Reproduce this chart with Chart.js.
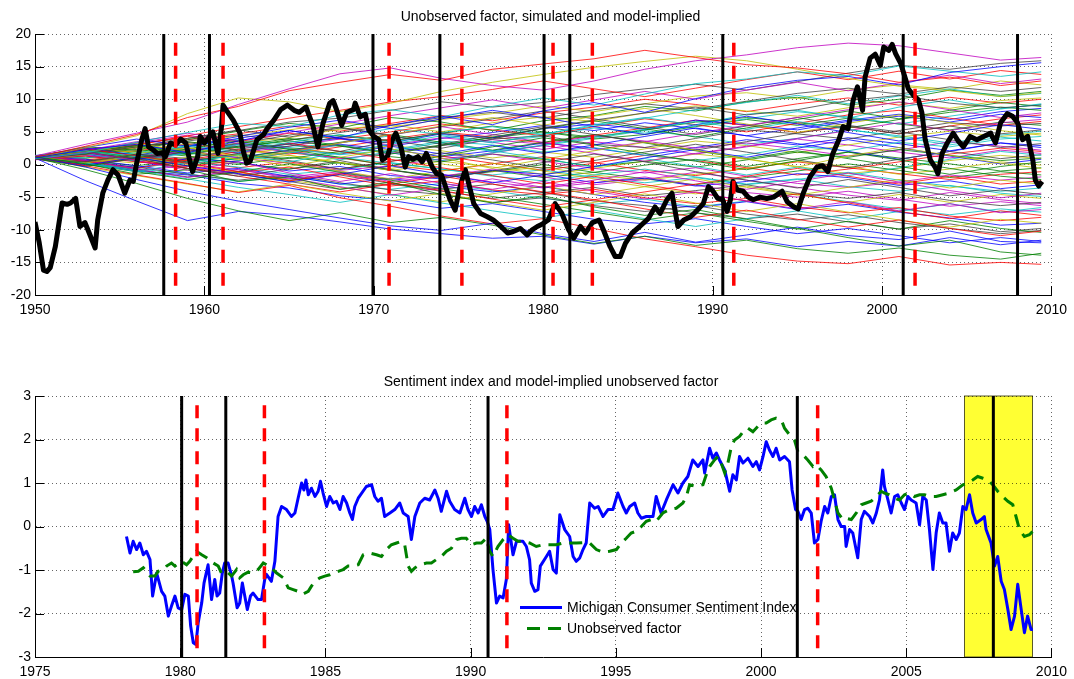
<!DOCTYPE html>
<html>
<head>
<meta charset="utf-8">
<script src="https://cdn.jsdelivr.net/npm/chart.js@4.4.0/dist/chart.umd.min.js"></script>
<style>
  html, body { margin: 0; padding: 0; background: #fff; overflow: hidden; }
  #top-chart { position: absolute; left: 0; top: 0; }
  #bottom-chart { position: absolute; left: 0; top: 362px; }
</style>
</head>
<body>
<canvas id="top-chart" width="1074" height="330"></canvas>
<canvas id="bottom-chart" width="1074" height="317"></canvas>
<script>
// ===================================
// Data
// ===================================

// Model-implied unobserved factor (thick black line, top panel)
const factorYears = [
    1950.0, 1950.25, 1950.5, 1950.7, 1950.9, 1951.2, 1951.6, 1951.9, 1952.1, 1952.4, 1952.65, 1952.95,
    1953.2, 1953.55, 1953.7, 1954.0, 1954.3, 1954.6, 1954.9, 1955.3, 1955.6, 1955.8, 1956.0, 1956.3,
    1956.5, 1956.7, 1957.0, 1957.2, 1957.5, 1957.7, 1958.0, 1958.3, 1958.6, 1958.9, 1959.1, 1959.3,
    1959.6, 1959.75, 1960.0, 1960.3, 1960.5, 1960.8, 1961.0, 1961.1, 1961.3, 1961.7, 1962.1, 1962.3,
    1962.5, 1962.7, 1963.1, 1963.5, 1963.7, 1964.1, 1964.5, 1964.9, 1965.3, 1965.6, 1966.0, 1966.4,
    1966.7, 1967.0, 1967.4, 1967.6, 1967.8, 1968.1, 1968.4, 1968.8, 1968.9, 1969.2, 1969.5, 1969.7,
    1970.0, 1970.3, 1970.5, 1970.8, 1971.1, 1971.3, 1971.6, 1971.85, 1972.05, 1972.3, 1972.6, 1972.85,
    1973.1, 1973.45, 1973.7, 1974.0, 1974.3, 1974.5, 1974.8, 1975.0, 1975.2, 1975.4, 1975.6, 1975.9,
    1976.3, 1976.7, 1977.05, 1977.5, 1977.9, 1978.2, 1978.65, 1979.05, 1979.35, 1979.65, 1979.9, 1980.3,
    1980.7, 1981.1, 1981.5, 1981.8, 1982.2, 1982.5, 1982.9, 1983.3, 1983.55, 1983.95, 1984.25, 1984.55,
    1984.85, 1985.25, 1985.7, 1986.2, 1986.6, 1986.9, 1987.3, 1987.6, 1987.95, 1988.3, 1988.7, 1989.1,
    1989.45, 1989.75, 1990.0, 1990.3, 1990.6, 1990.85, 1991.05, 1991.2, 1991.45, 1991.8, 1992.1, 1992.4,
    1992.8, 1993.2, 1993.6, 1994.1, 1994.4, 1994.8, 1995.05, 1995.35, 1995.75, 1996.15, 1996.5, 1996.8,
    1997.1, 1997.45, 1997.7, 1998.0, 1998.3, 1998.55, 1998.85, 1999.0, 1999.3, 1999.6, 1999.9, 2000.1,
    2000.4, 2000.6, 2000.8, 2001.1, 2001.4, 2001.55, 2001.85, 2002.15, 2002.35, 2002.55, 2002.85, 2003.15,
    2003.3, 2003.55, 2003.85, 2004.2, 2004.5, 2004.8, 2005.2, 2005.6, 2006.0, 2006.4, 2006.7, 2007.0,
    2007.4, 2007.7, 2008.0, 2008.3, 2008.6, 2008.9, 2009.05, 2009.25, 2009.45
];
const factorValues = [
    -8.8, -12.0, -16.2, -16.4, -15.8, -12.6, -5.9, -6.1, -5.9, -5.2, -9.5, -8.9,
    -10.5, -12.8, -8.5, -4.4, -2.4, -0.8, -1.6, -4.4, -2.4, -2.6, 0.2, 3.8,
    5.5, 2.7, 2.2, 1.7, 1.8, 1.2, 3.3, 3.0, 3.9, 3.3, 1.0, -1.1,
    1.2, 4.3, 3.3, 4.3, 5.0, 1.7, 5.5, 9.1, 8.3, 6.8, 4.8, 2.0,
    0.2, 0.5, 3.8, 4.6, 5.5, 6.8, 8.4, 9.1, 8.3, 8.0, 8.8, 6.0,
    2.7, 6.3, 9.4, 9.8, 8.4, 6.0, 8.0, 8.4, 9.4, 7.3, 7.7, 5.3,
    4.3, 3.8, 0.7, 1.2, 3.8, 4.8, 2.7, -0.4, 1.2, 0.8, 1.2, 0.4,
    1.7, -0.4, -1.4, -1.6, -3.9, -5.4, -7.0, -4.4, -2.4, -0.8, -2.9, -6.0,
    -7.5, -8.0, -8.5, -9.5, -10.5, -10.3, -9.8, -10.8, -10.0, -9.5, -9.2, -8.5,
    -6.0, -7.5, -10.0, -11.3, -9.5, -10.5, -8.9, -8.5, -10.0, -12.6, -14.1, -14.1,
    -12.1, -10.5, -9.5, -8.3, -6.5, -7.5, -5.4, -4.4, -9.5, -8.5, -8.0, -7.0,
    -6.0, -3.4, -4.0, -5.2, -5.4, -7.2, -5.4, -2.6, -3.9, -4.1, -5.0, -5.4,
    -5.0, -5.2, -5.0, -4.1, -5.7, -6.5, -6.8, -4.4, -1.9, -0.4, -0.2, -1.1,
    1.7, 3.8, 5.8, 5.5, 9.9, 11.9, 8.3, 13.4, 16.3, 16.9, 15.2, 18.0,
    17.5, 18.4, 17.0, 15.5, 13.0, 11.6, 10.6, 9.9, 8.0, 3.8, 0.7, -0.5,
    -1.4, 1.7, 3.3, 4.8, 3.6, 2.7, 4.3, 3.8, 4.3, 4.8, 3.3, 6.4,
    7.8, 7.4, 6.4, 3.8, 4.3, 0.7, -2.4, -3.3, -2.6
];

// Simulated paths of the factor (thin coloured lines, top panel)
const simYears = [1950, 1953, 1956, 1959, 1962, 1965, 1968, 1971, 1974, 1977, 1980,
                  1983, 1986, 1989, 1992, 1995, 1998, 2001, 2004, 2007, 2009.4];
const simPaths = [
    [1.0, 2.3, 3.1, 1.8, 3.6, 5.2, 4.1, 6.0, 7.4, 6.1, 8.2, 9.5, 8.0, 10.1, 11.8, 12.9, 13.5, 12.2, 14.1, 15.0, 15.6],
    [1.2, 0.1, -1.5, -0.8, -2.6, -1.9, -3.8, -2.7, -4.6, -5.9, -4.8, -6.5, -7.8, -6.9, -8.4, -9.8, -11.2, -12.5, -11.6, -13.4, -13.9],
    [1.1, 2.8, 4.6, 7.2, 8.9, 11.3, 12.6, 13.8, 12.9, 14.6, 15.4, 16.2, 17.5, 16.4, 15.3, 14.8, 13.9, 12.6, 13.4, 12.1, 12.8],
    [0.9, 1.8, 3.4, 4.9, 6.3, 5.8, 7.6, 8.4, 7.3, 8.9, 10.2, 9.1, 10.8, 12.4, 13.1, 14.2, 13.6, 15.1, 14.3, 13.5, 14.2],
    [1.3, 3.1, 4.8, 6.5, 9.2, 11.6, 13.9, 14.8, 13.2, 12.1, 11.4, 12.8, 14.6, 15.9, 16.8, 17.9, 18.6, 18.2, 17.1, 16.0, 16.4],
    [1.0, 2.6, 4.4, 7.8, 10.2, 9.6, 8.1, 9.4, 11.2, 12.6, 13.8, 14.9, 15.8, 16.6, 15.9, 14.6, 13.2, 12.0, 11.3, 10.4, 11.0],
    [0.8, 0.4, 1.6, 0.9, 2.4, 3.1, 2.0, 3.6, 4.8, 3.9, 5.6, 6.8, 7.9, 8.8, 7.6, 8.4, 9.8, 10.6, 9.4, 8.7, 9.1],
    [1.2, -0.4, -2.3, -4.1, -5.6, -6.9, -8.2, -9.4, -10.1, -9.0, -10.6, -11.8, -10.4, -11.9, -10.8, -9.6, -10.9, -11.5, -10.2, -11.8, -12.0],
    [1.0, -0.8, -2.9, -5.2, -7.1, -8.6, -7.4, -8.9, -8.1, -9.3, -10.8, -12.1, -11.0, -12.4, -11.6, -12.9, -13.6, -12.8, -13.9, -14.5, -13.6],
    [1.1, -0.2, -1.6, -2.9, -4.3, -3.2, -5.1, -6.4, -7.9, -9.1, -8.3, -9.8, -11.4, -12.6, -13.9, -14.8, -15.2, -14.1, -15.4, -15.0, -15.3],
    [1.4, 2.1, 1.2, 2.9, 1.9, 3.4, 4.6, 3.3, 4.9, 5.8, 4.6, 6.1, 7.2, 6.0, 7.7, 8.3, 7.1, 8.8, 9.9, 8.6, 9.2],
    [0.7, 1.9, 0.6, -0.9, 0.4, -1.3, -2.6, -1.4, -2.9, -3.8, -2.6, -4.1, -5.3, -4.2, -5.6, -6.8, -5.7, -7.1, -6.0, -7.4, -6.9],
    [1.2, 0.3, 1.7, 2.6, 1.2, -0.3, 1.1, 2.4, 1.0, -0.6, 0.8, 2.1, 3.4, 2.2, 0.9, -0.4, 1.3, 2.6, 1.4, 0.2, -0.6],
    [1.0, 1.8, 0.9, -0.6, -1.8, -0.7, 0.6, -0.8, -2.1, -1.0, 0.3, 1.6, 0.4, -1.1, -2.4, -3.6, -2.3, -3.5, -4.8, -3.9, -4.6],
    [1.1, 2.6, 3.9, 2.8, 4.3, 5.7, 6.8, 5.5, 7.0, 8.3, 7.2, 5.8, 4.6, 6.1, 7.4, 6.2, 4.9, 3.6, 4.8, 6.1, 5.4],
    [0.9, -0.3, 1.0, 2.4, 3.6, 2.3, 1.1, -0.2, 1.3, 2.7, 4.1, 3.0, 1.7, 0.5, -0.8, 0.6, 1.9, 0.7, -0.6, -1.8, -2.3],
    [1.3, 2.4, 1.3, 0.2, -1.1, -2.5, -1.4, -2.8, -4.0, -5.3, -6.5, -5.4, -6.8, -8.1, -7.0, -8.4, -9.6, -8.5, -9.8, -10.9, -10.2],
    [1.0, 0.2, -1.1, 0.3, 1.5, 0.4, 1.8, 3.1, 4.4, 3.3, 4.7, 5.9, 7.1, 8.4, 9.5, 10.6, 9.3, 10.5, 11.6, 10.4, 10.9],
    [1.2, 0.6, -0.7, -2.0, -0.8, -2.1, -3.4, -4.7, -3.6, -2.2, -3.5, -2.4, -1.1, -2.5, -3.8, -2.6, -1.3, -2.7, -4.0, -5.1, -4.4],
    [1.1, 1.9, 3.2, 2.1, 0.8, 1.9, 3.3, 4.6, 5.9, 7.2, 6.0, 7.4, 8.6, 7.5, 6.2, 4.9, 6.3, 7.6, 6.4, 5.2, 4.5],
    [0.8, 1.6, 2.7, 4.0, 5.3, 4.2, 5.6, 4.4, 3.1, 4.5, 5.8, 4.6, 3.4, 2.2, 3.5, 4.8, 6.0, 5.0, 3.8, 2.6, 3.2],
    [1.0, -0.1, 1.1, -0.2, -1.4, -2.7, -1.5, -0.2, -1.5, -2.8, -1.6, -0.3, 1.0, 2.3, 1.1, 2.5, 3.8, 2.6, 1.3, 0.1, 0.8],
    [1.2, 2.0, 2.9, 1.6, 2.8, 4.0, 2.9, 1.6, 2.9, 4.2, 5.5, 6.7, 5.5, 4.2, 5.6, 6.9, 8.2, 7.0, 8.3, 9.5, 8.9],
    [1.4, 0.5, -0.6, 0.7, 2.0, 3.3, 2.0, 0.8, -0.5, -1.7, -3.0, -1.8, -3.1, -4.3, -5.6, -4.5, -5.9, -7.2, -8.3, -7.1, -7.8],
    [0.9, 1.7, 0.5, 1.8, 3.1, 2.0, 0.7, 2.0, 3.4, 2.1, 0.9, -0.4, 0.9, -0.3, -1.6, -0.4, -1.7, -0.5, 0.8, 2.0, 1.4],
    [1.1, 2.2, 3.5, 4.8, 3.6, 4.9, 6.2, 7.5, 8.7, 9.9, 8.6, 9.9, 11.2, 10.0, 11.4, 12.6, 11.3, 12.5, 13.7, 12.4, 13.1],
    [1.0, -0.4, -1.7, -3.0, -4.2, -3.0, -4.4, -5.6, -4.4, -5.8, -7.0, -5.8, -4.5, -5.9, -7.2, -6.0, -7.3, -8.5, -9.6, -8.4, -9.0],
    [1.2, 0.5, 1.5, 0.4, 1.7, 0.6, -0.7, 0.5, 1.8, 0.7, -0.6, 0.6, 1.9, 3.1, 1.9, 0.7, -0.5, 0.8, 2.0, 0.9, 1.5],
    [1.3, 2.5, 1.4, 2.7, 4.0, 5.2, 4.0, 2.8, 1.6, 2.9, 1.7, 3.0, 4.3, 5.6, 4.4, 3.2, 2.0, 0.8, 2.0, 3.3, 2.6],
    [1.0, 0.0, -1.1, -2.3, -1.1, 0.1, -1.2, -2.4, -3.7, -4.9, -6.1, -7.3, -8.5, -7.4, -8.7, -9.9, -8.7, -9.9, -8.6, -9.8, -10.4],
    [0.8, 1.9, 3.0, 4.4, 5.8, 7.1, 8.3, 9.6, 10.4, 11.5, 12.8, 11.6, 10.4, 11.7, 13.0, 14.2, 13.0, 14.3, 13.1, 14.4, 13.8],
    [1.1, 0.3, -0.9, -2.2, -3.5, -4.6, -5.8, -4.6, -5.9, -7.1, -8.2, -7.0, -8.3, -9.5, -8.3, -7.1, -8.4, -7.2, -6.0, -7.3, -6.6],
    [1.2, 2.1, 3.3, 4.5, 3.2, 2.0, 3.3, 4.6, 5.8, 4.6, 3.4, 2.2, 3.5, 4.8, 6.0, 7.2, 8.4, 9.6, 8.4, 7.2, 7.9],
    [0.9, 0.1, 1.2, 0.0, -1.2, -2.4, -3.5, -4.6, -5.7, -4.5, -3.3, -4.6, -3.4, -2.2, -3.5, -4.7, -3.5, -2.3, -3.6, -2.4, -3.0],
    [1.0, 1.9, 0.8, 2.0, 3.2, 4.5, 5.7, 4.5, 5.8, 7.0, 8.2, 7.0, 5.8, 4.6, 5.9, 7.2, 5.9, 4.7, 5.9, 4.7, 5.3],
    [1.0, -2.5, -5.6, -8.6, -7.2, -7.8, -8.8, -9.9, -10.6, -11.3, -11.0, -12.2, -11.0, -12.0, -11.4, -12.6, -11.8, -12.5, -11.2, -12.3, -11.6],
    [1.2, 2.2, 1.0, -0.2, 1.0, 2.2, 3.4, 4.6, 3.4, 2.2, 3.4, 4.6, 3.3, 2.1, 0.9, 2.1, 0.9, -0.3, -1.5, -0.3, 0.4],
    [1.0, 1.8, 0.6, -0.6, -1.8, -3.0, -4.2, -3.0, -1.8, -3.0, -4.2, -5.4, -4.2, -3.0, -1.8, -0.6, -1.8, -3.0, -1.8, -3.0, -2.5],
    [1.3, 2.0, 3.0, 1.8, 0.6, 1.8, 3.0, 1.8, 0.6, 1.8, 3.0, 4.2, 5.4, 6.6, 5.4, 6.6, 5.4, 4.2, 3.0, 4.2, 3.6],
    [0.8, -0.2, 0.9, 2.0, 3.1, 1.9, 3.0, 1.8, 0.6, 1.8, 2.9, 1.7, 0.5, 1.7, 2.8, 4.0, 5.2, 6.4, 5.2, 6.4, 6.9],
    [1.1, 0.2, 1.4, 2.6, 1.4, 0.2, -1.0, -2.2, -1.0, 0.2, -1.0, -2.2, -3.4, -4.5, -3.3, -4.6, -5.8, -4.6, -5.8, -4.6, -5.2],
    [1.1, 1.6, 2.9, 3.4, 2.1, 2.8, 4.3, 3.7, 2.5, 3.9, 4.4, 3.1, 2.6, 4.0, 5.3, 4.7, 3.9, 5.2, 6.4, 5.9, 6.3],
    [1.0, 0.6, -0.5, 0.9, 0.4, -1.0, -0.3, -1.7, -2.2, -0.9, -1.5, -2.8, -2.1, -3.3, -2.6, -1.4, -2.0, -3.2, -2.5, -3.7, -3.1],
    [1.2, 2.7, 2.2, 3.8, 5.1, 6.3, 5.6, 7.2, 6.5, 5.2, 6.7, 7.5, 8.9, 8.2, 9.6, 10.3, 9.1, 10.0, 11.4, 10.6, 11.2],
    [0.9, 0.2, 0.8, -0.6, -1.2, -0.4, -1.9, -3.3, -2.5, -3.9, -4.6, -3.8, -5.1, -6.0, -5.2, -6.5, -7.4, -6.6, -7.9, -8.6, -8.1],
    [1.3, 1.9, 1.1, 1.7, 3.0, 2.4, 1.5, 2.2, 3.6, 3.0, 1.9, 2.6, 1.4, 0.6, 1.5, 2.8, 2.1, 3.4, 2.7, 3.9, 4.3],
    [1.1, 0.4, 1.3, 2.1, 1.0, 0.2, -0.9, -0.2, 0.9, 1.6, 0.5, -0.6, -1.3, -0.5, -1.8, -2.9, -3.5, -2.7, -1.6, -2.4, -1.9],
    [0.8, 1.5, 2.6, 2.0, 3.3, 4.1, 5.4, 6.1, 5.0, 6.4, 7.3, 6.6, 7.9, 9.0, 8.2, 7.4, 8.7, 9.5, 8.6, 9.8, 10.2],
    [1.2, 0.3, -0.8, -1.9, -1.1, -2.4, -1.6, -2.9, -3.8, -3.0, -4.3, -3.5, -4.8, -4.0, -3.1, -4.4, -5.2, -4.3, -5.5, -6.3, -5.8],
    [1.0, 1.7, 0.9, 2.3, 1.8, 3.2, 4.0, 3.3, 4.7, 4.1, 5.5, 6.2, 5.4, 6.8, 6.1, 5.3, 6.6, 7.4, 6.5, 7.7, 7.2],
    [1.1, 0.5, 1.2, 0.3, 1.5, 0.9, 2.0, 1.2, 0.4, 1.6, 0.8, -0.3, 0.5, -0.4, 0.7, 1.9, 1.1, 2.3, 1.4, 0.6, 1.0],
    [1.3, 2.4, 3.0, 4.3, 3.5, 4.8, 3.9, 5.0, 6.2, 5.3, 4.4, 5.8, 7.0, 6.1, 5.0, 6.3, 7.6, 8.3, 7.1, 6.0, 6.6],
    [0.9, 0.0, -0.6, 0.5, -0.4, -1.5, -0.8, 0.3, -0.7, -1.8, -2.5, -1.6, -0.7, -1.9, -3.0, -2.2, -3.4, -4.1, -3.2, -4.4, -4.9],
    [1.0, 1.4, 0.7, 1.9, 2.8, 2.0, 0.9, 1.7, 2.9, 3.8, 3.1, 4.4, 3.6, 2.5, 3.3, 2.4, 1.3, 2.2, 3.5, 2.8, 2.2],
    [1.2, 1.9, 2.8, 1.9, 0.7, 1.4, 0.3, -0.9, 0.1, -1.1, -0.4, -1.6, -2.4, -1.5, -0.6, 0.5, -0.3, -1.5, -0.7, 0.4, -0.1],
    [1.1, 2.0, 3.3, 4.0, 5.2, 6.5, 7.1, 8.3, 9.6, 8.8, 9.5, 10.7, 11.6, 12.3, 11.4, 12.7, 14.0, 15.2, 14.6, 15.5, 15.9],
    [1.0, 0.2, -1.0, -1.6, -2.9, -3.6, -4.8, -5.5, -6.7, -6.0, -7.2, -8.4, -9.1, -8.3, -9.5, -10.6, -9.8, -10.9, -12.0, -11.2, -11.8],
    [1.2, 1.6, 2.3, 1.5, 2.7, 3.6, 2.8, 1.9, 3.0, 4.1, 5.0, 4.2, 5.3, 6.5, 7.2, 6.4, 5.6, 6.9, 8.0, 8.8, 8.3],
    [0.8, 1.3, 0.4, -0.3, 0.6, 1.8, 1.0, -0.1, -1.0, 0.1, 1.2, 0.3, -0.9, -1.7, -0.6, 0.4, -0.5, -1.4, -2.3, -1.5, -1.1],
    [1.3, 2.2, 1.6, 2.8, 3.9, 3.1, 4.2, 5.5, 4.6, 3.5, 4.3, 5.6, 4.8, 5.9, 7.0, 8.1, 7.3, 6.2, 7.4, 8.5, 9.3],
    [1.0, 0.1, -0.9, -0.2, -1.4, -2.2, -1.3, -2.6, -1.8, -0.7, -1.9, -3.1, -2.3, -1.2, -2.4, -3.5, -4.7, -5.5, -4.3, -5.4, -6.0],
    [1.1, 1.8, 1.2, 0.5, 1.6, 2.5, 1.7, 2.9, 2.1, 1.0, 1.9, 1.1, 2.4, 3.6, 2.9, 1.8, 3.0, 4.2, 5.1, 4.3, 4.8],
    [0.9, 1.5, 2.5, 3.6, 4.5, 3.7, 4.9, 6.0, 7.2, 8.0, 7.1, 8.4, 9.3, 8.5, 9.7, 10.9, 11.7, 10.8, 11.9, 11.2, 11.8],
    [1.2, 0.8, -0.2, -1.3, -0.6, -1.8, -3.0, -2.1, -3.3, -4.2, -3.4, -4.6, -5.8, -6.6, -5.7, -6.9, -6.1, -7.3, -8.2, -9.3, -9.0],
    [1.0, 1.6, 2.7, 3.5, 2.6, 3.8, 4.5, 3.6, 4.8, 5.9, 5.0, 3.9, 4.6, 5.8, 6.9, 6.0, 7.1, 6.2, 5.3, 6.5, 6.0],
    [1.1, 0.7, 1.5, 0.6, -0.5, 0.4, -0.7, 0.5, 1.3, 0.2, -0.9, 0.2, 1.4, 0.6, -0.5, -1.6, -0.7, 0.4, 1.6, 2.5, 2.0],
    [1.3, 1.0, 1.8, 2.9, 3.7, 2.6, 3.3, 4.4, 3.2, 2.0, 2.9, 4.0, 5.2, 4.3, 3.1, 4.0, 5.3, 4.4, 3.3, 4.5, 5.1],
    [0.9, 0.3, 0.9, 0.1, -0.8, -1.9, -1.1, -2.3, -1.5, -2.7, -3.6, -2.8, -1.9, -3.2, -4.3, -5.0, -4.1, -5.3, -6.4, -5.7, -6.3],
    [1.2, 2.3, 1.9, 3.2, 4.4, 5.3, 6.4, 5.7, 6.9, 7.8, 9.0, 8.1, 9.3, 10.5, 11.0, 10.1, 11.4, 12.2, 11.5, 12.8, 12.2],
    [1.0, 0.4, -0.4, -1.5, -2.4, -1.6, -2.8, -3.9, -4.6, -5.8, -5.1, -6.3, -7.2, -6.3, -7.6, -8.5, -7.7, -8.9, -9.8, -10.6, -10.1],
    [1.1, 1.5, 0.8, 1.8, 1.1, 2.2, 3.1, 2.3, 1.2, 2.1, 3.3, 2.5, 1.4, 2.6, 3.8, 3.0, 4.1, 3.2, 2.1, 3.3, 2.9],
    [1.2, 1.0, 2.0, 1.3, 0.2, -0.7, 0.3, -0.8, -1.9, -1.1, 0.0, -1.2, -2.2, -3.1, -2.0, -1.0, 0.1, -0.9, -2.0, -1.1, -1.6],
    [0.8, 1.6, 2.1, 3.1, 2.3, 1.6, 2.7, 3.9, 5.0, 4.2, 3.3, 4.5, 5.6, 6.8, 6.0, 4.9, 5.8, 4.7, 5.9, 7.0, 7.6],
    [1.0, 0.5, 1.1, 0.2, 0.9, 1.9, 1.1, 0.2, -0.7, -1.6, -0.8, -2.0, -2.8, -2.0, -3.1, -2.3, -1.2, -2.4, -3.3, -4.1, -3.6],
    [1.1, 2.1, 1.5, 0.6, 1.7, 2.8, 3.9, 3.0, 4.1, 3.4, 2.3, 3.5, 2.6, 1.6, 2.7, 3.9, 3.0, 1.9, 1.0, 2.2, 1.7],
    [1.3, 0.9, 0.2, 1.1, 2.2, 1.4, 0.3, -0.6, 0.5, -0.4, -1.5, -0.6, 0.5, 1.6, 0.8, -0.3, -1.4, -0.6, 0.6, 1.4, 0.9],
    [0.9, 1.3, 0.5, -0.6, -1.5, -2.6, -3.8, -3.0, -4.1, -5.2, -4.3, -5.6, -6.3, -7.4, -8.3, -7.6, -8.8, -9.9, -9.1, -10.3, -9.8],
    [1.0, 2.1, 2.9, 2.1, 3.3, 2.5, 1.6, 2.8, 4.0, 4.9, 6.0, 5.2, 6.4, 5.5, 4.4, 5.6, 6.8, 7.7, 6.9, 8.1, 8.6],
    [1.2, 0.6, -0.2, 0.8, 0.0, 1.1, 0.2, -0.9, -1.8, -0.9, -2.0, -1.2, -0.1, 0.8, -0.3, 0.9, 1.9, 1.0, 0.1, -1.0, -0.5],
    [1.1, 1.8, 2.6, 3.8, 4.7, 5.9, 5.1, 6.3, 7.5, 6.7, 7.9, 8.8, 10.0, 9.2, 8.1, 9.3, 10.2, 9.1, 10.3, 9.4, 10.0],
    [1.0, 0.4, -0.7, -1.4, -2.6, -1.8, -3.0, -3.8, -2.9, -4.0, -5.2, -6.1, -5.3, -6.5, -5.6, -4.5, -5.7, -6.8, -7.7, -6.8, -7.3]
];
const simColors = ['rgb(0,0,255)', 'rgb(0,128,0)', 'rgb(255,0,0)', 'rgb(0,191,191)',
                   'rgb(191,0,191)', 'rgb(191,191,0)', 'rgb(64,64,64)'];

// Recession dates: peaks (black solid) and troughs (red dashed)
const recessionPeaks = [1957.6, 1960.3, 1969.95, 1973.9, 1980.05, 1981.57, 1990.6, 2001.25, 2008.0];
const recessionTroughs = [1958.3, 1961.1, 1970.9, 1975.2, 1980.58, 1982.9, 1991.25, 2001.95];

// Michigan Consumer Sentiment Index (standardized, bottom panel)
const sentYears = [
    1978.15, 1978.27, 1978.38, 1978.50, 1978.61, 1978.73, 1978.84, 1978.96, 1979.05, 1979.19, 1979.36, 1979.47,
    1979.59, 1979.70, 1979.82, 1979.93, 1980.05, 1980.16, 1980.28, 1980.36, 1980.45, 1980.54, 1980.62, 1980.74,
    1980.82, 1980.96, 1981.08, 1981.19, 1981.27, 1981.36, 1981.45, 1981.53, 1981.65, 1981.76, 1981.82, 1981.96,
    1982.05, 1982.14, 1982.31, 1982.42, 1982.51, 1982.68, 1982.80, 1982.91, 1982.97, 1983.14, 1983.26, 1983.37,
    1983.49, 1983.66, 1983.83, 1983.95, 1984.06, 1984.18, 1984.26, 1984.33, 1984.41, 1984.52, 1984.64, 1984.75,
    1984.83, 1984.92, 1985.04, 1985.15, 1985.27, 1985.38, 1985.50, 1985.61, 1985.73, 1985.84, 1985.93, 1986.01,
    1986.13, 1986.41, 1986.59, 1986.70, 1986.81, 1986.93, 1987.04, 1987.22, 1987.39, 1987.56, 1987.68, 1987.85,
    1987.96, 1988.08, 1988.25, 1988.42, 1988.59, 1988.77, 1988.88, 1988.99, 1989.17, 1989.28, 1989.45, 1989.63,
    1989.80, 1989.91, 1990.03, 1990.14, 1990.26, 1990.37, 1990.49, 1990.57, 1990.66, 1990.77, 1990.89, 1991.00,
    1991.12, 1991.23, 1991.31, 1991.46, 1991.58, 1991.80, 1991.92, 1992.03, 1992.09, 1992.21, 1992.32, 1992.40,
    1992.61, 1992.72, 1992.84, 1992.95, 1993.07, 1993.24, 1993.41, 1993.53, 1993.64, 1993.76, 1993.87, 1993.98,
    1994.10, 1994.27, 1994.39, 1994.56, 1994.73, 1994.90, 1995.07, 1995.25, 1995.36, 1995.48, 1995.65, 1995.76,
    1995.88, 1996.05, 1996.28, 1996.39, 1996.56, 1996.74, 1996.97, 1997.14, 1997.31, 1997.48, 1997.65, 1997.83,
    1998.00, 1998.06, 1998.23, 1998.34, 1998.46, 1998.57, 1998.75, 1998.92, 1999.03, 1999.15, 1999.26, 1999.38,
    1999.55, 1999.72, 1999.84, 1999.95, 2000.07, 2000.18, 2000.29, 2000.41, 2000.52, 2000.64, 2000.81, 2000.98,
    2001.07, 2001.19, 2001.27, 2001.38, 2001.50, 2001.61, 2001.73, 2001.84, 2001.96, 2002.07, 2002.19, 2002.30,
    2002.42, 2002.53, 2002.65, 2002.76, 2002.88, 2002.93, 2003.05, 2003.16, 2003.33, 2003.45, 2003.56, 2003.74,
    2003.85, 2003.97, 2004.08, 2004.19, 2004.25, 2004.37, 2004.48, 2004.60, 2004.71, 2004.83, 2004.94, 2005.06,
    2005.17, 2005.34, 2005.46, 2005.57, 2005.69, 2005.80, 2005.92, 2006.03, 2006.14, 2006.26, 2006.37, 2006.49,
    2006.60, 2006.72, 2006.83, 2006.95, 2007.06, 2007.18, 2007.29, 2007.41, 2007.58, 2007.69, 2007.75, 2007.92,
    2008.04, 2008.15, 2008.27, 2008.38, 2008.50, 2008.61, 2008.73, 2008.84, 2008.96, 2009.07, 2009.18, 2009.30,
    2009.36
];
const sentValues = [
    -0.23, -0.61, -0.34, -0.53, -0.38, -0.65, -0.57, -0.76, -1.60, -1.07, -1.49, -1.60,
    -2.06, -1.83, -1.60, -1.87, -1.91, -1.56, -1.60, -2.29, -2.67, -2.71, -2.21, -1.76,
    -1.30, -0.88, -1.68, -1.22, -1.60, -1.53, -1.07, -0.84, -0.84, -1.10, -1.30, -1.87,
    -1.76, -1.30, -1.91, -1.60, -1.53, -1.68, -1.68, -1.22, -1.10, -1.26, -0.80, 0.23,
    0.46, 0.39, 0.23, 0.31, 0.65, 1.00, 0.84, 1.07, 0.73, 0.88, 0.69, 0.81,
    1.04, 0.77, 0.46, 0.69, 0.54, 0.58, 0.39, 0.69, 0.54, 0.31, 0.16, 0.46,
    0.65, 0.92, 0.96, 0.69, 0.58, 0.65, 0.23, 0.31, 0.39, 0.54, 0.31, 0.23,
    -0.30, 0.23, 0.54, 0.65, 0.61, 0.84, 0.65, 0.35, 0.81, 0.58, 0.39, 0.31,
    0.65, 0.39, 0.23, 0.46, 0.31, 0.50, 0.23, 0.12, -0.07, -0.99, -1.76, -1.60,
    -1.64, -1.22, 0.04, -0.65, -0.34, -0.34, -0.46, -0.76, -1.30, -1.49, -1.45, -0.91,
    -0.69, -0.57, -0.99, -1.07, 0.27, -0.07, -0.23, -0.69, -0.80, -0.72, -0.53, -0.38,
    0.54, 0.42, 0.46, 0.23, 0.39, 0.39, 0.77, 0.46, 0.31, 0.46, 0.54, 0.31,
    0.19, 0.23, 0.23, 0.69, 0.31, 0.61, 0.96, 0.77, 1.00, 1.15, 1.53, 1.38,
    1.53, 1.23, 1.80, 1.57, 1.69, 1.53, 1.30, 0.81, 1.19, 1.07, 1.61, 1.46,
    1.57, 1.38, 1.49, 1.30, 1.61, 1.95, 1.76, 1.61, 1.80, 1.53, 1.61, 1.49,
    0.84, 0.39, 0.35, 0.16, 0.39, 0.42, 0.31, -0.38, -0.30, 0.12, 0.46, 0.31,
    0.69, 0.73, 0.16, 0.00, 0.00, -0.46, -0.07, -0.15, -0.72, 0.16, 0.35, 0.23,
    0.08, 0.31, 0.61, 1.30, 0.92, 0.61, 0.31, 0.69, 0.73, 0.54, 0.39, 0.69,
    0.61, 0.54, 0.04, 0.69, 0.61, -0.07, -0.99, -0.15, 0.31, 0.08, 0.08, -0.57,
    -0.15, -0.30, -0.15, 0.46, 0.39, 0.73, 0.31, 0.08, 0.16, 0.23, -0.07, -0.38,
    -0.91, -0.69, -1.26, -1.45, -1.91, -2.37, -2.06, -1.33, -1.91, -2.44, -2.06, -2.37,
    -2.37
];

// Model-implied unobserved factor, standardized (green dashed, bottom panel)
const unobsYears = [
    1978.38, 1978.56, 1978.73, 1978.84, 1978.96, 1979.13, 1979.24, 1979.42, 1979.53, 1979.70, 1979.82, 1980.05,
    1980.22, 1980.33, 1980.56, 1980.74, 1980.91, 1981.14, 1981.31, 1981.42, 1981.60, 1981.77, 1981.94, 1982.05,
    1982.17, 1982.34, 1982.51, 1982.68, 1982.86, 1982.97, 1983.14, 1983.32, 1983.55, 1983.72, 1983.89, 1984.06,
    1984.18, 1984.29, 1984.41, 1984.52, 1984.64, 1984.81, 1984.98, 1985.15, 1985.27, 1985.44, 1985.61, 1985.78,
    1985.96, 1986.13, 1986.30, 1986.53, 1986.76, 1986.93, 1987.10, 1987.27, 1987.45, 1987.62, 1987.73, 1987.85,
    1987.96, 1988.08, 1988.25, 1988.48, 1988.65, 1988.82, 1988.99, 1989.17, 1989.34, 1989.51, 1989.68, 1989.85,
    1990.03, 1990.20, 1990.37, 1990.54, 1990.66, 1990.77, 1990.94, 1991.12, 1991.29, 1991.46, 1991.63, 1991.80,
    1992.03, 1992.26, 1992.49, 1992.72, 1992.95, 1993.18, 1993.41, 1993.64, 1993.87, 1994.10, 1994.33, 1994.56,
    1994.79, 1995.02, 1995.19, 1995.36, 1995.53, 1995.70, 1995.88, 1996.05, 1996.22, 1996.39, 1996.62, 1996.85,
    1997.08, 1997.31, 1997.43, 1997.54, 1997.77, 1998.00, 1998.17, 1998.23, 1998.40, 1998.52, 1998.63, 1998.75,
    1998.86, 1998.98, 1999.09, 1999.26, 1999.43, 1999.55, 1999.72, 1999.89, 2000.07, 2000.18, 2000.35, 2000.52,
    2000.70, 2000.81, 2000.98, 2001.15, 2001.27, 2001.44, 2001.61, 2001.79, 2001.90, 2002.07, 2002.24, 2002.42,
    2002.53, 2002.65, 2002.82, 2002.93, 2003.11, 2003.28, 2003.45, 2003.62, 2003.79, 2003.97, 2004.14, 2004.25,
    2004.42, 2004.60, 2004.77, 2004.94, 2005.11, 2005.28, 2005.46, 2005.63, 2005.80, 2006.03, 2006.26, 2006.49,
    2006.72, 2006.95, 2007.12, 2007.29, 2007.46, 2007.64, 2007.81, 2007.98, 2008.15, 2008.32, 2008.50, 2008.67,
    2008.78, 2008.90, 2009.07, 2009.24, 2009.36
];
const unobsValues = [
    -1.04, -1.03, -0.95, -1.03, -1.14, -1.14, -1.03, -0.99, -0.91, -0.84, -0.91, -0.80,
    -0.88, -0.80, -0.57, -0.65, -0.72, -0.84, -0.91, -1.07, -1.03, -1.14, -0.99, -1.18,
    -1.11, -1.05, -1.07, -0.99, -0.84, -0.88, -0.95, -1.07, -1.18, -1.41, -1.45, -1.49,
    -1.56, -1.53, -1.49, -1.37, -1.26, -1.18, -1.14, -1.11, -1.07, -1.03, -0.99, -0.91,
    -0.91, -0.88, -0.65, -0.61, -0.65, -0.69, -0.53, -0.42, -0.38, -0.34, -0.42, -0.91,
    -1.03, -0.95, -0.88, -0.84, -0.84, -0.76, -0.69, -0.57, -0.50, -0.30, -0.27, -0.27,
    -0.42, -0.38, -0.38, -0.27, -0.57, -0.69, -0.46, -0.30, -0.19, -0.27, -0.34, -0.34,
    -0.38, -0.46, -0.42, -0.42, -0.42, -0.38, -0.38, -0.38, -0.37, -0.38, -0.53, -0.59,
    -0.57, -0.53, -0.38, -0.27, -0.15, -0.11, 0.00, 0.12, 0.16, 0.12, 0.31, 0.39,
    0.42, 0.54, 0.69, 0.96, 0.92, 0.96, 1.30, 1.38, 1.53, 1.61, 1.46, 1.23,
    1.46, 1.84, 1.99, 2.07, 2.22, 2.26, 2.18, 2.30, 2.38, 2.38, 2.45, 2.49,
    2.45, 2.26, 2.11, 1.99, 1.72, 1.65, 1.53, 1.38, 1.42, 1.30, 1.15, 0.88,
    0.61, 0.31, 0.16, 0.19, 0.16, 0.31, 0.50, 0.54, 0.58, 0.69, 0.81, 0.77,
    0.73, 0.65, 0.61, 0.73, 0.77, 0.69, 0.73, 0.73, 0.69, 0.69, 0.73, 0.77,
    0.84, 0.96, 1.00, 1.07, 1.15, 1.11, 1.07, 0.96, 0.81, 0.69, 0.58, 0.50,
    0.23, -0.07, -0.23, -0.19, -0.11
];

// Highlighted period (yellow band, bottom panel)
const shadeStart = 2007.0;
const shadeEnd = 2009.35;

// Tick labels
const topYearTicks = [1950, 1960, 1970, 1980, 1990, 2000, 2010];
const topValueTicks = [-20, -15, -10, -5, 0, 5, 10, 15, 20];
const bottomYearTicks = [1975, 1980, 1985, 1990, 1995, 2000, 2005, 2010];
const bottomValueTicks = [-3, -2, -1, 0, 1, 2, 3];

// ===================================
// Helpers
// ===================================

const FONT = { family: '"Liberation Sans", Arial, Helvetica, sans-serif', size: 14 };
const GRID_COLOR = 'rgba(0, 0, 0, 0.6)';

const toPoints = (xs, ys) => xs.map((x, i) => ({ x: x, y: ys[i] }));

function verticalLine(year, lo, hi, color, width, dash) {
    return {
        data: [{ x: year, y: lo }, { x: year, y: hi }],
        borderColor: color,
        borderWidth: width,
        borderDash: dash,
        borderCapStyle: 'butt',
        pointRadius: 0,
        order: 0
    };
}

function linearAxis(min, max, tickValues, size, padding) {
    return {
        type: 'linear',
        min: min,
        max: max,
        afterBuildTicks: (scale) => { scale.ticks = tickValues.map(v => ({ value: v })); },
        afterFit: (scale) => {
            if (scale.isHorizontal()) scale.height = size; else scale.width = size;
        },
        grid: { color: GRID_COLOR, lineWidth: 1, drawTicks: false },
        border: { display: true, color: '#000', width: 1, dash: [1, 3] },
        ticks: {
            padding: padding,
            color: '#000',
            font: FONT,
            maxRotation: 0,
            autoSkip: false,
            callback: (value) => String(value)
        }
    };
}

// Title centred the way the original figure places it
const panelTitle = {
    id: 'panelTitle',
    afterDraw(chart, args, opts) {
        const { ctx } = chart;
        ctx.save();
        ctx.font = FONT.size + 'px ' + FONT.family;
        ctx.fillStyle = '#000';
        ctx.textAlign = 'center';
        ctx.textBaseline = 'middle';
        ctx.fillText(opts.text, opts.x, opts.y);
        ctx.restore();
    }
};

// MATLAB-style tick marks pointing into the plot
const inwardTicks = {
    id: 'inwardTicks',
    beforeDatasetsDraw(chart) {
        const { ctx, chartArea, scales } = chart;
        ctx.save();
        ctx.strokeStyle = '#000';
        ctx.lineWidth = 1;
        ctx.beginPath();
        scales.x.ticks.forEach(t => {
            const px = Math.round(scales.x.getPixelForValue(t.value)) + 0.5;
            ctx.moveTo(px, chartArea.bottom);
            ctx.lineTo(px, chartArea.bottom - 9);
        });
        scales.y.ticks.forEach(t => {
            const py = Math.round(scales.y.getPixelForValue(t.value)) + 0.5;
            ctx.moveTo(chartArea.left, py);
            ctx.lineTo(chartArea.left + 9, py);
        });
        ctx.stroke();
        ctx.restore();
    }
};

// Yellow band behind the grid
const shadeBand = {
    id: 'shadeBand',
    beforeDraw(chart) {
        const { ctx, chartArea, scales } = chart;
        const x0 = scales.x.getPixelForValue(shadeStart);
        const x1 = scales.x.getPixelForValue(shadeEnd);
        ctx.save();
        ctx.fillStyle = 'rgb(255, 255, 51)';
        ctx.fillRect(x0, chartArea.top, x1 - x0, chartArea.bottom - chartArea.top);
        ctx.strokeStyle = 'rgb(90, 90, 40)';
        ctx.lineWidth = 1;
        ctx.strokeRect(Math.round(x0) + 0.5, chartArea.top, Math.round(x1 - x0), chartArea.bottom - chartArea.top);
        ctx.restore();
    }
};

// Legend drawn inside the plot, no box
const insideLegend = {
    id: 'insideLegend',
    afterDraw(chart) {
        const { ctx, chartArea } = chart;
        const items = chart.data.datasets.filter(d => d.legendLabel);
        ctx.save();
        ctx.font = FONT.size + 'px ' + FONT.family;
        ctx.textBaseline = 'middle';
        ctx.fillStyle = '#000';
        items.forEach((d, i) => {
            const y = chartArea.top + 211.5 + i * 21;
            const x = chartArea.left + 485;
            ctx.strokeStyle = d.borderColor;
            ctx.lineWidth = d.borderWidth;
            ctx.setLineDash(d.borderDash || []);
            ctx.beginPath();
            ctx.moveTo(d.borderDash ? x + 7 : x, y);
            ctx.lineTo(x + 42, y);
            ctx.stroke();
            ctx.fillText(d.legendLabel, x + 47, y + 1);
        });
        ctx.restore();
    }
};

function baseOptions(title, xAxis, yAxis) {
    return {
        responsive: false,
        animation: false,
        devicePixelRatio: 1,
        layout: { padding: { left: 0, right: 22, top: 34, bottom: 0 } },
        elements: { line: { tension: 0, fill: false }, point: { radius: 0 } },
        plugins: {
            legend: { display: false },
            tooltip: { enabled: false },
            title: { display: false },
            panelTitle: title
        },
        scales: { x: xAxis, y: yAxis }
    };
}

// ===================================
// Top panel
// ===================================

const topDatasets = [];
recessionPeaks.forEach(yr => topDatasets.push(verticalLine(yr, -20, 20, '#000', 3, [])));
recessionTroughs.forEach(yr => topDatasets.push(verticalLine(yr, -18.6, 19.1, 'rgb(255,0,0)', 3.5, [13, 10])));
topDatasets.push({
    data: toPoints(factorYears, factorValues),
    borderColor: '#000',
    borderWidth: 5,
    borderJoinStyle: 'round',
    pointRadius: 0,
    order: 1
});
simPaths.forEach((path, i) => {
    topDatasets.push({
        data: toPoints(simYears, path),
        borderColor: simColors[i % simColors.length],
        borderWidth: 0.8,
        pointRadius: 0,
        order: 2
    });
});

new Chart(document.getElementById('top-chart'), {
    type: 'line',
    data: { datasets: topDatasets },
    options: baseOptions(
        { text: 'Unobserved factor, simulated and model-implied', x: 550.5, y: 16.7 },
        linearAxis(1950, 2010, topYearTicks, 35, 7),
        linearAxis(-20, 20, topValueTicks, 35, 4)
    ),
    plugins: [inwardTicks, panelTitle]
});

// ===================================
// Bottom panel
// ===================================

const bottomDatasets = [
    {
        legendLabel: 'Michigan Consumer Sentiment Index',
        data: toPoints(sentYears, sentValues),
        borderColor: 'rgb(0,0,255)',
        borderWidth: 3,
        borderJoinStyle: 'round',
        pointRadius: 0,
        order: 2
    },
    {
        legendLabel: 'Unobserved factor',
        data: toPoints(unobsYears, unobsValues),
        borderColor: 'rgb(0,128,0)',
        borderWidth: 3,
        borderDash: [13, 8],
        borderCapStyle: 'butt',
        pointRadius: 0,
        order: 1
    }
];
recessionPeaks.filter(yr => yr > 1978).forEach(yr =>
    bottomDatasets.push(verticalLine(yr, -3, 3, '#000', 3, [])));
recessionTroughs.filter(yr => yr > 1978).forEach(yr =>
    bottomDatasets.push(verticalLine(yr, -2.8, 2.85, 'rgb(255,0,0)', 3.5, [13, 10])));

new Chart(document.getElementById('bottom-chart'), {
    type: 'line',
    data: { datasets: bottomDatasets },
    options: baseOptions(
        { text: 'Sentiment index and model-implied unobserved factor', x: 551, y: 19.7 },
        linearAxis(1975, 2010, bottomYearTicks, 22, 7),
        linearAxis(-3, 3, bottomValueTicks, 35, 4)
    ),
    plugins: [shadeBand, inwardTicks, insideLegend, panelTitle]
});
</script>
</body>
</html>
